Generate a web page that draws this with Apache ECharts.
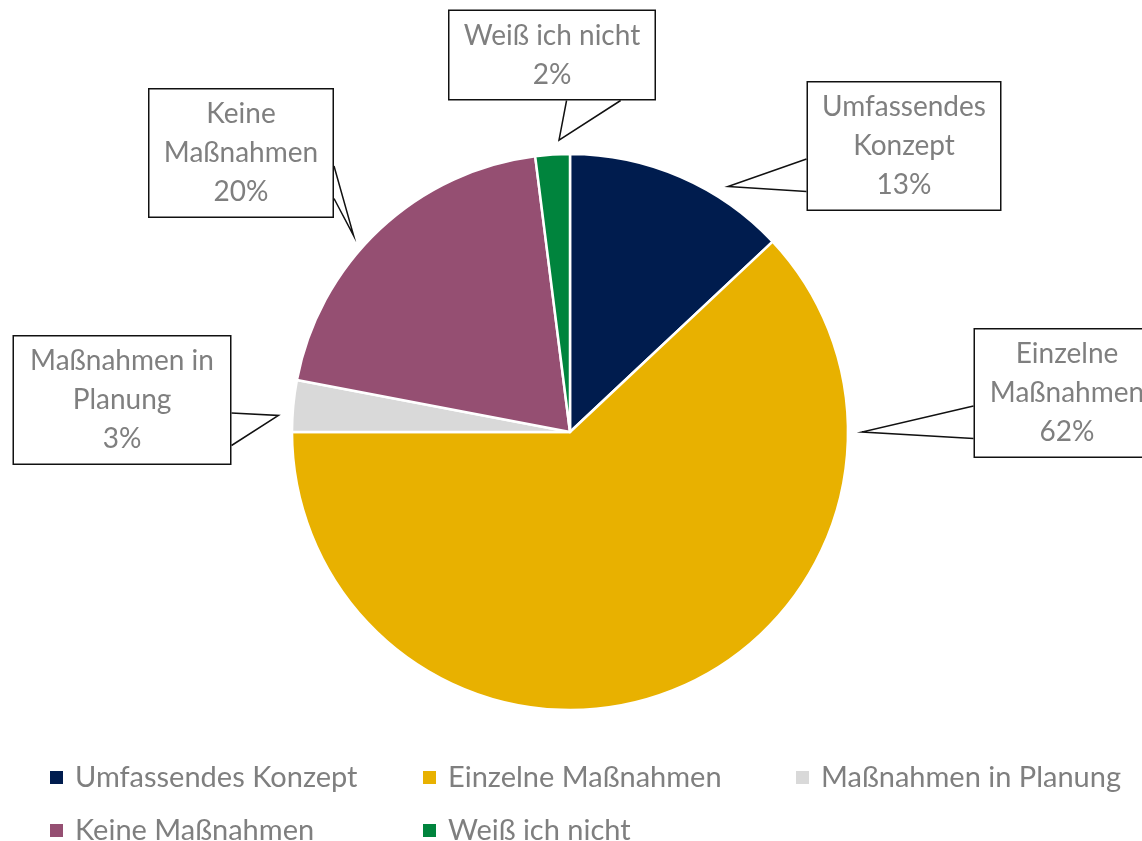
<!DOCTYPE html>
<html>
<head>
<meta charset="utf-8">
<script src="https://cdn.jsdelivr.net/npm/echarts@6/dist/echarts.min.js"></script>
<style>
  html, body { margin: 0; padding: 0; background: #fff; }
  #chart { width: 1142px; height: 841px; }
</style>
</head>
<body>
<div id="chart"></div>
<script>
// Daten
const categories = ['Umfassendes Konzept', 'Einzelne Maßnahmen', 'Maßnahmen in Planung', 'Keine Maßnahmen', 'Weiß ich nicht']
const shares = [13, 62, 3, 20, 2]
const calloutText = ['Umfassendes\nKonzept', 'Einzelne\nMaßnahmen', 'Maßnahmen in\nPlanung', 'Keine\nMaßnahmen', 'Weiß ich nicht']
const colors = ['#001c4e', '#e8b100', '#d9d9d9', '#954f72', '#00843d']

// Layout
const pieCenter = [570, 432]
const pieRadius = 278
const calloutCenters = [[904, 146], [1067, 393], [122, 400], [241, 153], [552, 55]]
const calloutWidths = [166, 158, 190, 157, 179]
const FONT = 'Lato, "Open Sans", sans-serif'

const total = shares.reduce((a, b) => a + b, 0)

function calloutLayout(params) {
  const i = params.dataIndex
  const cx = calloutCenters[i][0]
  const cy = calloutCenters[i][1]
  const w = params.labelRect.width
  const h = params.labelRect.height
  const rx = cx - w / 2
  const ry = cy - h / 2
  // Winkelbereich des Segments (im Uhrzeigersinn ab 12 Uhr)
  let start = 0
  for (let j = 0; j < i; j++) start += shares[j]
  const a0 = start / total * 360
  const a1 = (start + shares[i]) / total * 360
  const m = Math.min(0.3 * (a1 - a0), 15)
  // naechster Punkt der Box zum Kreismittelpunkt
  const nx = Math.max(rx, Math.min(rx + w, pieCenter[0]))
  const ny = Math.max(ry, Math.min(ry + h, pieCenter[1]))
  let ang = Math.atan2(nx - pieCenter[0], pieCenter[1] - ny) * 180 / Math.PI
  if (ang < 0) ang += 360
  if (ang < a0 - 180) ang += 360
  ang = Math.max(a0 + m, Math.min(a1 - m, ang))
  const rad = ang * Math.PI / 180
  const tip = [pieCenter[0] + (pieRadius + 14) * Math.sin(rad), pieCenter[1] - (pieRadius + 14) * Math.cos(rad)]
  let b1, b2
  if (tip[0] >= rx && tip[0] <= rx + w) {
    const by = tip[1] > cy ? ry + h : ry
    b1 = [rx + 0.57 * w, by]
    b2 = [rx + 0.83 * w, by]
  } else {
    const bx = tip[0] > cx ? rx + w : rx
    b1 = [bx, ry + 0.6 * h]
    b2 = [bx, ry + 0.85 * h]
  }
  return {
    x: cx,
    y: cy,
    align: 'center',
    verticalAlign: 'middle',
    labelLinePoints: [b1, tip, b2]
  }
}

const pieData = categories.map((name, i) => ({
  name: name,
  value: shares[i],
  label: { width: calloutWidths[i] }
}))

const option = {
  color: colors,
  animation: false,
  legend: {
    left: 50,
    top: 751,
    width: 1100,
    padding: 0,
    itemGap: 0,
    itemWidth: 13,
    itemHeight: 13,
    icon: 'rect',
    itemStyle: { borderWidth: 0 },
    data: categories.map((name, i) => ({
      name: name,
      textStyle: { width: i === 2 ? 320 : 348 }
    })),
    textStyle: {
      fontFamily: FONT,
      fontSize: 29,
      color: '#7f7f7f',
      lineHeight: 53,
      padding: [0, 0, 0, 7]
    }
  },
  series: [
    {
      type: 'pie',
      center: pieCenter,
      radius: pieRadius,
      startAngle: 90,
      clockwise: true,
      data: pieData,
      itemStyle: {
        borderColor: '#fff',
        borderWidth: 2.5
      },
      label: {
        show: true,
        position: 'outside',
        formatter: p => calloutText[p.dataIndex] + '\n' + p.value + '%',
        fontFamily: FONT,
        fontSize: 28,
        lineHeight: 39,
        color: '#7f7f7f',
        align: 'center',
        backgroundColor: '#fff',
        borderColor: '#111',
        borderWidth: 1.5,
        padding: [5, 13]
      },
      labelLine: {
        show: true,
        lineStyle: { color: '#111', width: 1.5 }
      },
      labelLayout: calloutLayout,
      emphasis: { disabled: true }
    }
  ]
}

const myChart = echarts.init(document.getElementById('chart'))
myChart.setOption(option, true)
</script>
</body>
</html>
